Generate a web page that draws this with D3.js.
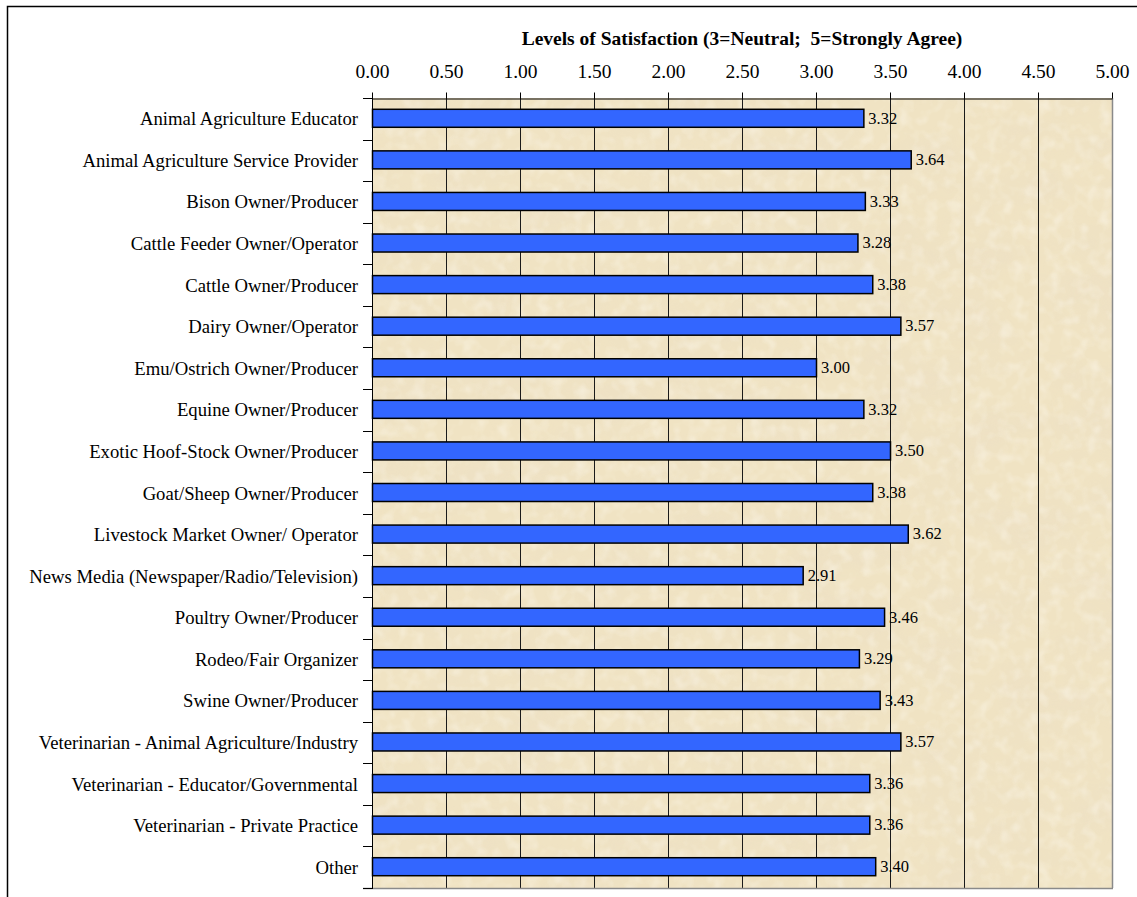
<!DOCTYPE html>
<html>
<head>
<meta charset="utf-8">
<script src="https://cdn.jsdelivr.net/npm/d3@7"></script>
<style>
  html, body { margin: 0; padding: 0; background: #ffffff; }
  svg { display: block; }
  text { font-family: "Liberation Serif", "Times New Roman", serif; fill: #000; }
</style>
</head>
<body>
<svg id="chart" width="1137" height="897"></svg>
<script>
// Respondent groups, top to bottom
const categories = [
  "Animal Agriculture Educator",
  "Animal Agriculture Service Provider",
  "Bison Owner/Producer",
  "Cattle Feeder Owner/Operator",
  "Cattle Owner/Producer",
  "Dairy Owner/Operator",
  "Emu/Ostrich Owner/Producer",
  "Equine Owner/Producer",
  "Exotic Hoof-Stock Owner/Producer",
  "Goat/Sheep Owner/Producer",
  "Livestock Market Owner/ Operator",
  "News Media (Newspaper/Radio/Television)",
  "Poultry Owner/Producer",
  "Rodeo/Fair Organizer",
  "Swine Owner/Producer",
  "Veterinarian - Animal Agriculture/Industry",
  "Veterinarian - Educator/Governmental",
  "Veterinarian - Private Practice",
  "Other"
];

// Mean satisfaction score for each group
const satisfaction = [
  3.32, 3.64, 3.33, 3.28, 3.38, 3.57, 3.00, 3.32, 3.50, 3.38,
  3.62, 2.91, 3.46, 3.29, 3.43, 3.57, 3.36, 3.36, 3.40
];

// Axis ticks along the top
const xTicks = [0, 0.5, 1, 1.5, 2, 2.5, 3, 3.5, 4, 4.5, 5];

const axisTitle = "Levels of Satisfaction (3=Neutral;\u00a0 5=Strongly Agree)";

const svg = d3.select("#chart");

const plot = { left: 372, right: 1112, top: 98, bottom: 888 };

const x = d3.scaleLinear().domain([0, 5]).range([plot.left, plot.right]);
const y = d3.scaleBand().domain(categories).range([plot.top, plot.bottom]).paddingInner(0).paddingOuter(0);

// Outer frame of the chart
svg.append("rect")
  .attr("x", 7.5).attr("y", 6.5)
  .attr("width", 1140).attr("height", 900)
  .attr("fill", "#ffffff")
  .attr("stroke", "#000").attr("stroke-width", 1.5);

// Parchment texture for the plot area
const defs = svg.append("defs");
const flt = defs.append("filter").attr("id", "parchment")
  .attr("x", 0).attr("y", 0).attr("width", 1).attr("height", 1);
flt.append("feTurbulence")
  .attr("type", "fractalNoise").attr("baseFrequency", "0.014 0.022")
  .attr("numOctaves", 4).attr("seed", 7).attr("result", "noise");
flt.append("feColorMatrix").attr("in", "noise").attr("type", "matrix")
  .attr("values",
    "0 0 0 0 0.84 " +
    "0 0 0 0 0.74 " +
    "0 0 0 0 0.56 " +
    "0 0 0 -1.7 1.1")
  .attr("result", "spots");
flt.append("feComposite").attr("in", "spots").attr("in2", "SourceGraphic").attr("operator", "in");

const flt2 = defs.append("filter").attr("id", "grain")
  .attr("x", 0).attr("y", 0).attr("width", 1).attr("height", 1);
flt2.append("feTurbulence")
  .attr("type", "fractalNoise").attr("baseFrequency", "0.08")
  .attr("numOctaves", 2).attr("seed", 3).attr("result", "noise");
flt2.append("feColorMatrix").attr("in", "noise").attr("type", "matrix")
  .attr("values",
    "0 0 0 0 1.0 " +
    "0 0 0 0 0.98 " +
    "0 0 0 0 0.92 " +
    "0 0 0 -1.8 1.0")
  .attr("result", "specks");
flt2.append("feComposite").attr("in", "specks").attr("in2", "SourceGraphic").attr("operator", "in");

svg.append("rect")
  .attr("x", plot.left).attr("y", plot.top)
  .attr("width", plot.right - plot.left).attr("height", plot.bottom - plot.top)
  .attr("fill", "#f0e3c3");
svg.append("rect")
  .attr("x", plot.left).attr("y", plot.top)
  .attr("width", plot.right - plot.left).attr("height", plot.bottom - plot.top)
  .attr("fill", "#000").attr("filter", "url(#parchment)").attr("opacity", 0.6);
svg.append("rect")
  .attr("x", plot.left).attr("y", plot.top)
  .attr("width", plot.right - plot.left).attr("height", plot.bottom - plot.top)
  .attr("fill", "#000").attr("filter", "url(#grain)").attr("opacity", 0.45);

// Vertical gridlines
svg.append("g")
  .selectAll("line")
  .data(xTicks.filter(d => d > 0 && d < 5))
  .join("line")
  .attr("x1", d => Math.round(x(d)) + 0.5).attr("x2", d => Math.round(x(d)) + 0.5)
  .attr("y1", plot.top).attr("y2", plot.bottom)
  .attr("stroke", "#1a1a1a").attr("stroke-width", 1);

// Right and bottom edges of the plot area
svg.append("line")
  .attr("x1", plot.right + 0.5).attr("x2", plot.right + 0.5)
  .attr("y1", plot.top).attr("y2", plot.bottom)
  .attr("stroke", "#8a8a8a").attr("stroke-width", 1.5);
svg.append("line")
  .attr("x1", plot.left - 9).attr("x2", plot.right + 1)
  .attr("y1", plot.bottom + 0.5).attr("y2", plot.bottom + 0.5)
  .attr("stroke", "#8a8a8a").attr("stroke-width", 1.5);

// Top value axis
const xAxis = d3.axisTop(x)
  .tickValues(xTicks)
  .tickFormat(d3.format(".2f"))
  .tickSizeInner(6).tickSizeOuter(0).tickPadding(15);
const gx = svg.append("g").attr("transform", `translate(0,${plot.top + 0.5})`).call(xAxis);
gx.select(".domain").attr("stroke", "#000").attr("stroke-width", 1);
gx.selectAll(".tick line").attr("stroke", "#000");
gx.selectAll(".tick text")
  .attr("font-family", "Liberation Serif, Times New Roman, serif")
  .attr("font-size", 19.5).attr("fill", "#000");

// Axis title
svg.append("text")
  .attr("x", (plot.left + plot.right) / 2).attr("y", 45)
  .attr("text-anchor", "middle")
  .attr("font-size", 19.5).attr("font-weight", "bold")
  .text(axisTitle);

// Left category axis: ticks at band boundaries
const boundaries = d3.range(categories.length + 1).map(i => plot.top + i * y.step());
svg.append("g").selectAll("line")
  .data(boundaries)
  .join("line")
  .attr("x1", plot.left - 9).attr("x2", plot.left)
  .attr("y1", d => Math.round(d) + 0.5).attr("y2", d => Math.round(d) + 0.5)
  .attr("stroke", "#000").attr("stroke-width", 1);
svg.append("line")
  .attr("x1", plot.left + 0.5).attr("x2", plot.left + 0.5)
  .attr("y1", plot.top).attr("y2", plot.bottom + 1)
  .attr("stroke", "#000").attr("stroke-width", 1);

svg.append("g").selectAll("text")
  .data(categories)
  .join("text")
  .attr("x", plot.left - 14)
  .attr("y", d => y(d) + y.bandwidth() / 2)
  .attr("dy", "0.35em")
  .attr("text-anchor", "end")
  .attr("font-size", 18.7)
  .text(d => d);

// Bars
const barH = 18;
svg.append("g").selectAll("rect")
  .data(categories.map((c, i) => ({ c, v: satisfaction[i] })))
  .join("rect")
  .attr("x", x(0) + 0.5)
  .attr("y", d => y(d.c) + y.bandwidth() / 2 - barH / 2 - 0.5)
  .attr("width", d => x(d.v) - x(0))
  .attr("height", barH)
  .attr("fill", "#3366ff")
  .attr("stroke", "#000").attr("stroke-width", 1.5);

// Value labels
svg.append("g").selectAll("text")
  .data(categories.map((c, i) => ({ c, v: satisfaction[i] })))
  .join("text")
  .attr("x", d => x(d.v) + 5)
  .attr("y", d => y(d.c) + y.bandwidth() / 2 - 1)
  .attr("dy", "0.35em")
  .attr("font-size", 16.5)
  .text(d => d3.format(".2f")(d.v));
</script>
</body>
</html>
